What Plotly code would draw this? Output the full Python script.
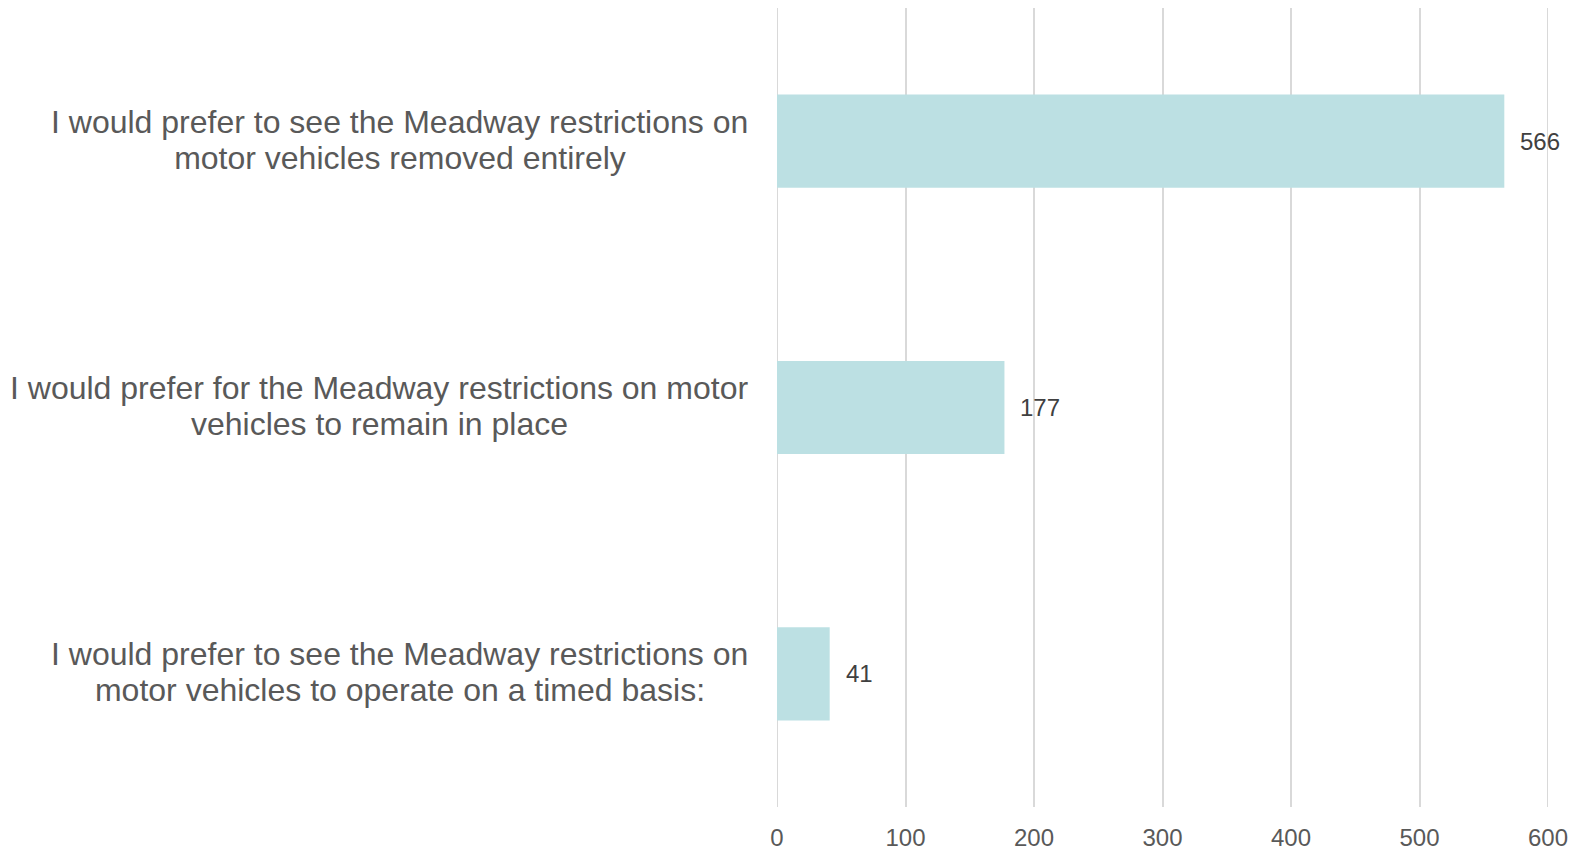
import plotly.graph_objects as go

categories = [
    "I would prefer to see the Meadway restrictions on motor vehicles removed entirely",
    "I would prefer for the Meadway restrictions on motor vehicles to remain in place",
    "I would prefer to see the Meadway restrictions on motor vehicles to operate on a timed basis:",
]
label_line1 = [
    "I would prefer to see the Meadway restrictions on",
    "I would prefer for the Meadway restrictions on motor",
    "I would prefer to see the Meadway restrictions on",
]
label_line2 = [
    "motor vehicles removed entirely",
    "vehicles to remain in place",
    "motor vehicles to operate on a timed basis:",
]
values = [566, 177, 41]
x_ticks = [0, 100, 200, 300, 400, 500, 600]

# pixel width of the first (widest) label line, used to centre the second line under it
line1_px = [696, 737, 696]

BAR = "#BCE0E3"
GRID = "#D9D9D9"
TICK = "#595959"
LABEL = "#595959"
DATA = "#404040"
FONT = "Liberation Sans, Arial, sans-serif"

fig = go.Figure(go.Bar(
    x=values, y=categories, orientation="h",
    marker=dict(color=BAR, line=dict(width=0)),
    hoverinfo="skip",
))

ann = []
for cat, l1, l2, w, v in zip(categories, label_line1, label_line2, line1_px, values):
    # data label
    ann.append(dict(x=v, y=cat, xref="x", yref="y", text=str(v), showarrow=False,
                    xanchor="left", xshift=14, font=dict(family=FONT, size=24, color=DATA)))
    # category label: two lines, second centred under the first
    ann.append(dict(x=0, y=cat, xref="paper", yref="y", text=l1, showarrow=False,
                    xanchor="right", align="center", xshift=-27, yshift=19.5,
                    font=dict(family=FONT, size=32, color=LABEL)))
    ann.append(dict(x=0, y=cat, xref="paper", yref="y", text=l2, showarrow=False,
                    xanchor="right", align="center", width=w, xshift=-27, yshift=-16.5,
                    font=dict(family=FONT, size=32, color=LABEL)))

# edge gridlines (0 and 600) that plotly omits at the range ends
shapes = [dict(type="line", xref="x", yref="paper", x0=t, x1=t, y0=0, y1=1,
               line=dict(color=GRID, width=2), layer="below")
          for t in (x_ticks[0], x_ticks[-1])]

fig.update_layout(
    width=1576, height=850,
    margin=dict(l=769, r=36, t=0, b=51),
    paper_bgcolor="white", plot_bgcolor="white",
    bargap=0.65,
    showlegend=False,
    annotations=ann,
    shapes=shapes,
    xaxis=dict(range=[0, 600], tickvals=x_ticks, showgrid=True, gridcolor=GRID, gridwidth=2,
               zeroline=False, showline=False, ticks="outside", ticklen=9,
               tickcolor="rgba(0,0,0,0)",
               tickfont=dict(family=FONT, size=24, color=TICK)),
    yaxis=dict(categoryorder="array", categoryarray=categories, autorange="reversed",
               showticklabels=False, showgrid=False, zeroline=False, showline=False),
)

fig.write_html("out.html")
